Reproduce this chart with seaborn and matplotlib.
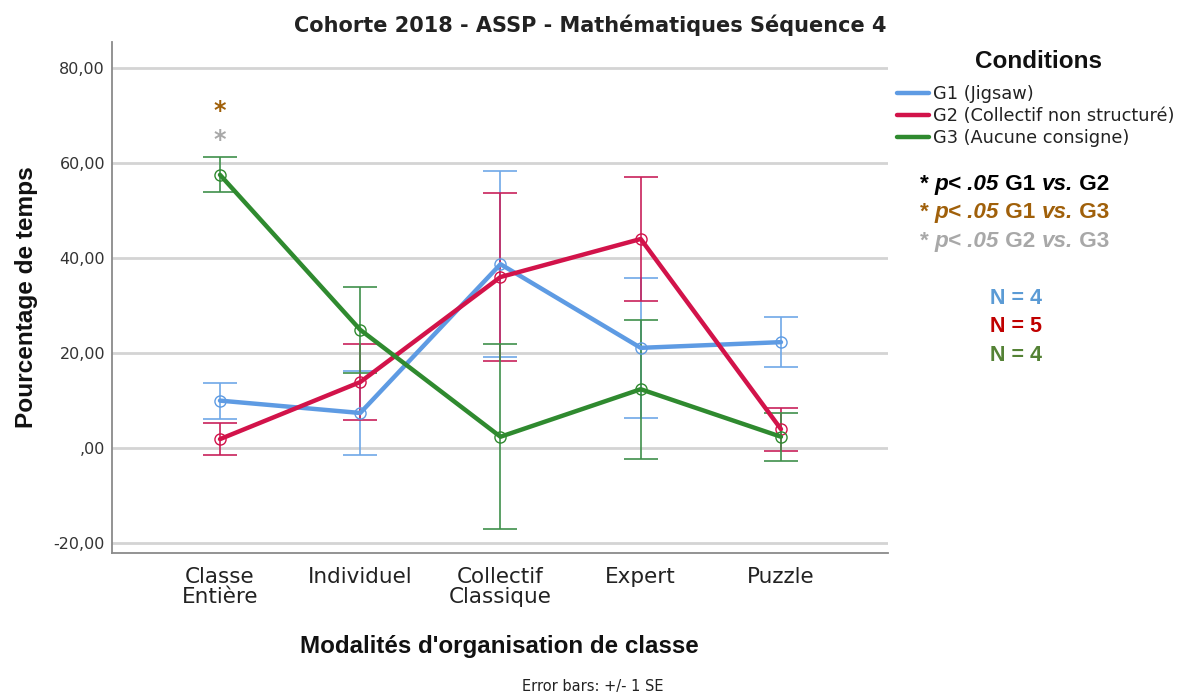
import matplotlib
matplotlib.use("Agg")
import matplotlib.pyplot as plt
from matplotlib.lines import Line2D
import numpy as np
import pandas as pd
import seaborn as sns

# Classroom organisation modes (x axis)
modalites = ["Classe\nEntière", "Individuel", "Collectif\nClassique", "Expert", "Puzzle"]

# Groups / experimental conditions
groupes = ["G1 (Jigsaw)", "G2 (Collectif non structuré)", "G3 (Aucune consigne)"]

# Mean percentage of time per mode, per group
moy_g1 = [10.0, 7.4, 38.7, 21.1, 22.3]
moy_g2 = [1.9, 13.9, 36.0, 44.0, 4.0]
moy_g3 = [57.5, 24.9, 2.4, 12.4, 2.4]

# Standard errors (error bars are +/- 1 SE)
se_g1 = [3.8, 8.9, 19.6, 14.7, 5.2]
se_g2 = [3.4, 8.0, 17.6, 13.0, 4.5]
se_g3 = [3.7, 9.0, 19.5, 14.6, 5.1]

# Group sizes
effectifs = [4, 5, 4]

y_ticks = [-20, 0, 20, 40, 60, 80]
y_ticklabels = ["-20,00", ",00", "20,00", "40,00", "60,00", "80,00"]

line_colors = ["#5E9BE3", "#D2134A", "#2F8A2F"]
bar_colors = ["#6FA8E8", "#C8205A", "#3F8F4A"]
n_colors = ["#5B9BD5", "#C00000", "#548235"]

df = pd.DataFrame({
    "modalite": modalites * 3,
    "groupe": np.repeat(groupes, len(modalites)),
    "moyenne": moy_g1 + moy_g2 + moy_g3,
    "se": se_g1 + se_g2 + se_g3,
})

sns.set_theme(style="white")
plt.rcParams["font.family"] = ["DejaVu Sans"]
LABEL_FONT = "Liberation Sans"

fig = plt.figure(figsize=(11.85, 6.95), dpi=100)
ax = fig.add_axes([0.0945, 0.204, 0.6545, 0.736])

# Horizontal grid
ax.set_axisbelow(True)
ax.yaxis.grid(True, color="#D4D4D4", linewidth=2)

# Mean lines with hollow markers
sns.pointplot(data=df, x="modalite", y="moyenne", hue="groupe",
              order=modalites, hue_order=groupes, palette=line_colors,
              errorbar=None, markers="o", linestyles="-", dodge=False,
              ax=ax, legend=False)
for ln in ax.lines:
    ln.set_linewidth(3.2)
    ln.set_markersize(8)
    ln.set_markerfacecolor("none")
    ln.set_markeredgewidth(1.0)
    ln.set_zorder(3)

# Error bars (+/- 1 SE)
for i, g in enumerate(groupes):
    sub = df[df["groupe"] == g]
    ax.errorbar(np.arange(len(modalites)), sub["moyenne"], yerr=sub["se"],
                fmt="none", ecolor=bar_colors[i], elinewidth=1.4,
                capsize=12.5, capthick=1.4, alpha=0.85, zorder=2)

ax.set_xlim(-0.77, 4.76)
ax.set_ylim(-22.1, 85.5)
ax.set_yticks(y_ticks)
ax.set_yticklabels(y_ticklabels, fontsize=11.5, color="#333333")
ax.set_xticks(range(len(modalites)))
ax.set_xticklabels(modalites, fontsize=15.5, color="#222222", linespacing=1.0)
ax.tick_params(axis="y", length=0, pad=5)
ax.tick_params(axis="x", length=0, pad=10)

for side in ["top", "right"]:
    ax.spines[side].set_visible(False)
for side in ["left", "bottom"]:
    ax.spines[side].set_color("#8A8A8A")
    ax.spines[side].set_linewidth(1.3)

lab = dict(fontweight="bold", fontfamily=LABEL_FONT, color="#111111")
ax.set_xlabel("Modalités d'organisation de classe", fontsize=17.4, labelpad=20, **lab)
ax.set_ylabel("Pourcentage de temps", fontsize=17.6, labelpad=11, **lab)
fig.text(0.498, 0.964, "Cohorte 2018 - ASSP - Mathématiques Séquence 4", fontsize=15,
         fontweight="bold", color="#222222", ha="center", va="center")

# Significance markers above "Classe Entière"
ax.text(0, 71, "*", color="#A0600A", fontsize=17, fontweight="bold",
        ha="center", va="center")
ax.text(0, 64.8, "*", color="#A8A8A8", fontsize=17, fontweight="bold",
        ha="center", va="center")

# Legend
fig.text(0.876, 0.911, "Conditions", fontsize=17.5, ha="center", va="center", **lab)
handles = [Line2D([0], [0], color=c, linewidth=3.2) for c in line_colors]
leg = fig.legend(handles, groupes, loc="upper left",
                 bbox_to_anchor=(0.757, 0.877), frameon=False, fontsize=12.8,
                 handlelength=1.8, handletextpad=0.25, labelspacing=0.22,
                 borderaxespad=0, borderpad=0)
for t in leg.get_texts():
    t.set_color("#222222")

# Significance key, written piece by piece (italic parts)
fig.canvas.draw()
renderer = fig.canvas.get_renderer()


def write_pieces(x, y, pieces, color):
    for txt, style in pieces:
        t = fig.text(x, y, txt, color=color, fontsize=16.2, fontweight="bold",
                     fontstyle=style, fontfamily=LABEL_FONT, va="center", ha="left")
        bb = t.get_window_extent(renderer)
        x += bb.width / fig.bbox.width


sig_lines = [("G1", "G2", "#000000"), ("G1", "G3", "#A0600A"), ("G2", "G3", "#A8A8A8")]
for k, (a, b, c) in enumerate(sig_lines):
    write_pieces(0.776, 0.735 - k * 0.041,
                 [("* ", "normal"), ("p< .05", "italic"), (" " + a + " ", "normal"),
                  ("vs.", "italic"), (" " + b, "normal")], c)

# Group sizes
for k, (n, c) in enumerate(zip(effectifs, n_colors)):
    fig.text(0.857, 0.571 - k * 0.041, f"N = {n}", color=c, fontsize=15.5,
             fontweight="bold", fontfamily=LABEL_FONT, ha="center", va="center")

fig.text(0.500, 0.001, "Error bars: +/- 1 SE", fontsize=10.5, color="#222222",
         ha="center", va="bottom")

fig.savefig("out.png", dpi=100)
